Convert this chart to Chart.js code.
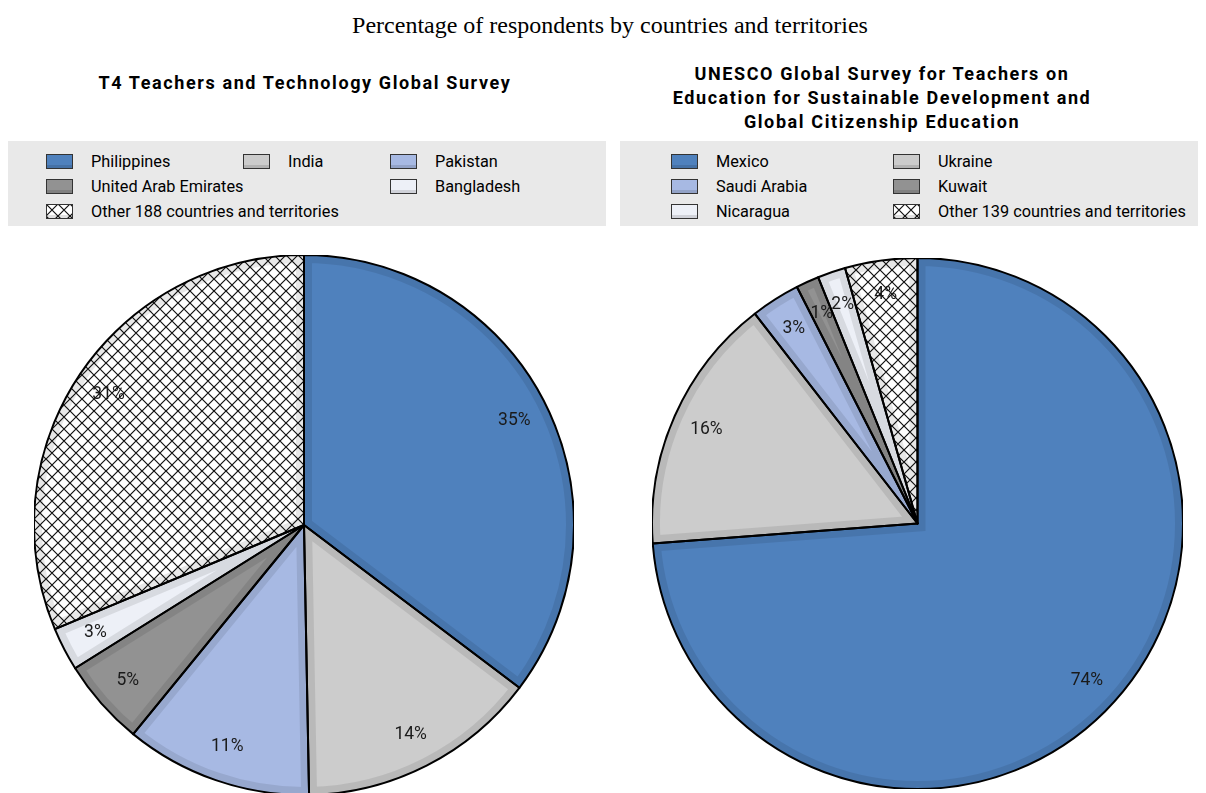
<!DOCTYPE html>
<html>
<head>
<meta charset="utf-8">
<script src="https://cdn.jsdelivr.net/npm/chart.js@4"></script>
<style>
  body { margin: 0; width: 1206px; height: 793px; background: #fff; overflow: hidden; position: relative; font-family: Roboto, "Liberation Sans", sans-serif; }
  #mainTitle { position: absolute; left: 7px; width: 1206px; top: 12px; text-align: center; font: 24px "Liberation Serif", "Times New Roman", serif; color: #000; }
  .subtitle { position: absolute; text-align: center; font-weight: bold; font-size: 18px; letter-spacing: 1.6px; line-height: 24px; color: #000; }
  .legend { position: absolute; background: #e9e9e9; top: 141px; height: 85px; }
  .item { position: absolute; height: 25px; line-height: 25px; font-size: 16.3px; color: #000; white-space: nowrap; }
  .item canvas { position: absolute; left: 0; top: 5px; }
  .item span { position: absolute; }
  .pie { position: absolute; }
</style>
</head>
<body>
<div id="mainTitle"></div>
<div class="subtitle" id="t4Title" style="left:0; width:610px; top:71px;"></div>
<div class="subtitle" id="unescoTitle" style="left:582px; width:600px; top:62px;"></div>
<div class="legend" id="t4Legend" style="left:8px; width:598px;"></div>
<div class="legend" id="unescoLegend" style="left:620px; width:578px;"></div>
<div class="pie" style="left:34px; top:255px; width:540px; height:540px;"><canvas id="t4Pie"></canvas></div>
<div class="pie" style="left:652px; top:258px; width:531px; height:531px;"><canvas id="unescoPie"></canvas></div>
<script>
const mainTitle = 'Percentage of respondents by countries and territories';

const t4Title = ['T4 Teachers and Technology Global Survey'];
const t4Countries = ['Philippines', 'India', 'Pakistan', 'United Arab Emirates', 'Bangladesh', 'Other 188 countries and territories'];
const t4Values = [35.3, 14.4, 11.2, 5.2, 2.6, 31.3];

const unescoTitle = ['UNESCO Global Survey for Teachers on', 'Education for Sustainable Development and', 'Global Citizenship Education'];
const unescoCountries = ['Mexico', 'Ukraine', 'Saudi Arabia', 'Kuwait', 'Nicaragua', 'Other 139 countries and territories'];
const unescoValues = [73.8, 15.7, 3.0, 1.4, 1.7, 4.4];

// slice colours, the last one is the cross hatch
function hatch(size) {
  const c = document.createElement('canvas');
  c.width = size; c.height = size;
  const g = c.getContext('2d');
  g.fillStyle = '#fff';
  g.fillRect(0, 0, size, size);
  g.strokeStyle = '#111';
  g.lineWidth = 1.2;
  g.beginPath();
  g.moveTo(0, 0); g.lineTo(size, size);
  g.moveTo(size, 0); g.lineTo(0, size);
  g.stroke();
  return c;
}
const hatchTile = hatch(12);
const sliceColors = ['#4f81bd', '#cccccc', '#a7b9e3', '#929292', '#edf0f7', null];

function fillFor(ctx, i) {
  return sliceColors[i] || ctx.createPattern(hatchTile, 'repeat');
}

document.getElementById('mainTitle').textContent = mainTitle;
document.getElementById('t4Title').innerHTML = t4Title.join('<br>');
document.getElementById('unescoTitle').innerHTML = unescoTitle.join('<br>');

// legend: [swatch x, row] for each item, text sits 45px right of the swatch
function buildLegend(id, names, cells) {
  const box = document.getElementById(id);
  names.forEach((name, i) => {
    const [x, row] = cells[i];
    const item = document.createElement('div');
    item.className = 'item';
    item.style.left = x + 'px';
    item.style.top = (8 + row * 25) + 'px';
    const sw = document.createElement('canvas');
    sw.width = 27; sw.height = 15;
    const g = sw.getContext('2d');
    g.fillStyle = fillFor(g, i);
    g.fillRect(0, 0, 27, 15);
    g.fillStyle = 'rgba(0,0,0,0.12)';
    g.fillRect(0, 11, 27, 4);
    g.strokeStyle = '#333';
    g.lineWidth = 1;
    g.strokeRect(0.5, 0.5, 26, 14);
    item.appendChild(sw);
    const txt = document.createElement('span');
    txt.style.left = '45px';
    txt.textContent = name;
    item.appendChild(txt);
    box.appendChild(item);
  });
}
buildLegend('t4Legend', t4Countries, [[38, 0], [235, 0], [382, 0], [38, 1], [382, 1], [38, 2]]);
buildLegend('unescoLegend', unescoCountries, [[51, 0], [273, 0], [51, 1], [273, 1], [51, 2], [273, 2]]);

// bevel band, black outlines and percentage labels
const sliceDecor = {
  id: 'sliceDecor',
  afterDatasetDraw(chart) {
    const ctx = chart.ctx;
    const values = chart.data.datasets[0].data;
    const total = values.reduce((a, b) => a + b, 0);
    const arcs = chart.getDatasetMeta(0).data;
    arcs.forEach(arc => {
      const p = arc.getProps(['x', 'y', 'startAngle', 'endAngle', 'outerRadius'], true);
      ctx.save();
      ctx.beginPath();
      ctx.moveTo(p.x, p.y);
      ctx.arc(p.x, p.y, p.outerRadius, p.startAngle, p.endAngle);
      ctx.closePath();
      ctx.clip();
      ctx.lineWidth = 16;
      ctx.lineJoin = 'miter';
      ctx.strokeStyle = 'rgba(0,0,0,0.09)';
      ctx.stroke();
      ctx.restore();
    });
    arcs.forEach(arc => {
      const p = arc.getProps(['x', 'y', 'startAngle', 'endAngle', 'outerRadius'], true);
      ctx.save();
      ctx.beginPath();
      ctx.moveTo(p.x, p.y);
      ctx.arc(p.x, p.y, p.outerRadius, p.startAngle, p.endAngle);
      ctx.closePath();
      ctx.lineWidth = 2;
      ctx.lineJoin = 'round';
      ctx.strokeStyle = '#000';
      ctx.stroke();
      ctx.restore();
    });
    ctx.save();
    ctx.font = '17.5px Roboto, "Liberation Sans", sans-serif';
    ctx.fillStyle = '#1a1a1a';
    ctx.textAlign = 'center';
    ctx.textBaseline = 'middle';
    arcs.forEach((arc, i) => {
      const p = arc.getProps(['x', 'y', 'startAngle', 'endAngle', 'outerRadius'], true);
      const mid = (p.startAngle + p.endAngle) / 2;
      const r = p.outerRadius * 0.87;
      ctx.fillText(Math.round(values[i] / total * 100) + '%', p.x + Math.cos(mid) * r, p.y + Math.sin(mid) * r);
    });
    ctx.restore();
  }
};

function makePie(id, names, values) {
  const ctx = document.getElementById(id).getContext('2d');
  return new Chart(ctx, {
    type: 'pie',
    data: {
      labels: names,
      datasets: [{
        data: values,
        backgroundColor: values.map((v, i) => fillFor(ctx, i)),
        borderWidth: 0
      }]
    },
    options: {
      responsive: true,
      maintainAspectRatio: false,
      animation: false,
      layout: { padding: 0 },
      plugins: {
        legend: { display: false },
        tooltip: { enabled: false }
      }
    },
    plugins: [sliceDecor]
  });
}

const t4Chart = makePie('t4Pie', t4Countries, t4Values);
const unescoChart = makePie('unescoPie', unescoCountries, unescoValues);
</script>
</body>
</html>
